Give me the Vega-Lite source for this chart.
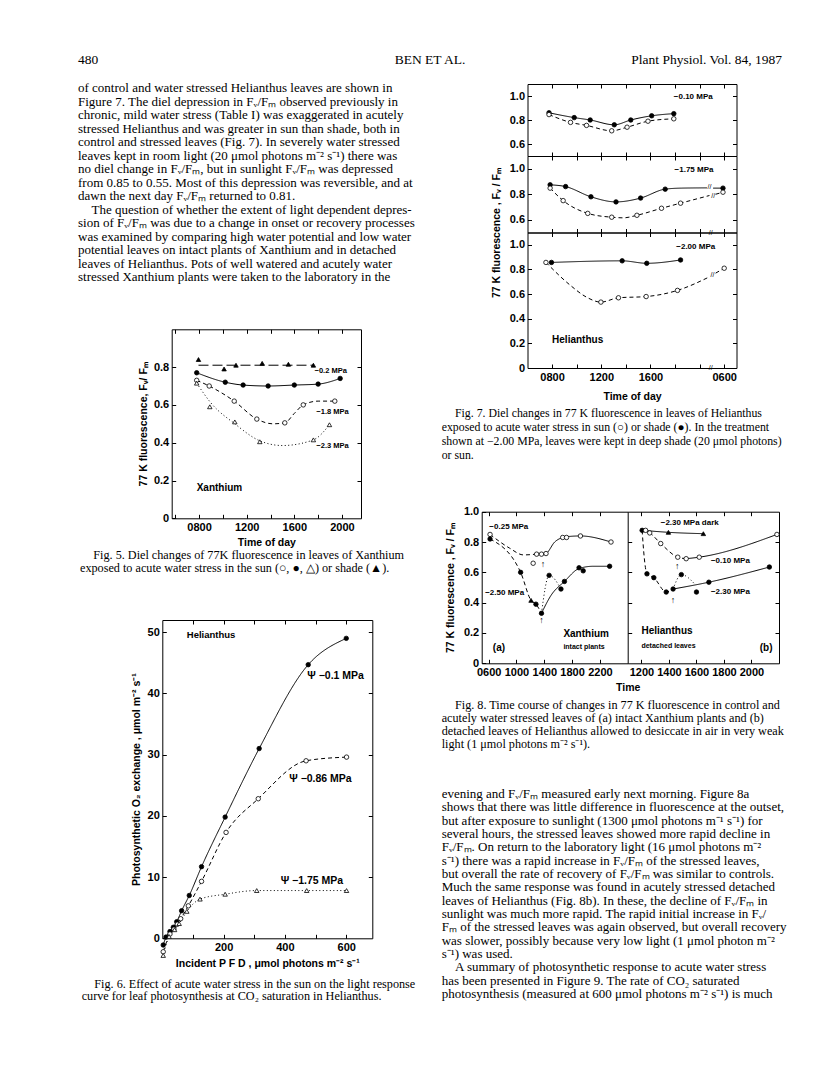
{
"$schema":"https://vega.github.io/schema/vega-lite/v6.json",
"width":816,"height":1073,"autosize":{"type":"none"},"padding":0,"background":"white",
"config":{"view":{"stroke":null},"font":"Liberation Sans",
"axis":{"grid":false,"domainColor":"black","tickColor":"black","labelColor":"black","titleColor":"black","labelFont":"Liberation Sans","titleFont":"Liberation Sans","labelFontWeight":"bold","titleFontWeight":"bold","labelFontSize":11,"titleFontSize":10.5,"tickSize":-4,"labelPadding":7,"labelFlush":false,"labelOverlap":false,"labelBound":false,"domainWidth":1,"tickWidth":1,"titlePadding":5,"minExtent":0}},
"resolve":{"scale":{"x":"independent","y":"independent"},"axis":{"x":"independent","y":"independent"}},
"datasets":{
"txt":[
{"b":"H","l":0,"p":0,"i":0,"t":"480"},
{"b":"H","l":0,"p":1,"i":0,"t":"BEN ET AL."},
{"b":"H","l":0,"p":2,"i":0,"t":"Plant Physiol. Vol. 84, 1987"},
{"b":"A","l":0,"i":0,"t":"of control and water stressed Helianthus leaves are shown in"},
{"b":"A","l":1,"i":0,"t":"Figure 7. The diel depression in Fᵥ/Fₘ observed previously in"},
{"b":"A","l":2,"i":0,"t":"chronic, mild water stress (Table I) was exaggerated in acutely"},
{"b":"A","l":3,"i":0,"t":"stressed Helianthus and was greater in sun than shade, both in"},
{"b":"A","l":4,"i":0,"t":"control and stressed leaves (Fig. 7). In severely water stressed"},
{"b":"A","l":5,"i":0,"t":"leaves kept in room light (20 μmol photons m⁻² s⁻¹) there was"},
{"b":"A","l":6,"i":0,"t":"no diel change in Fᵥ/Fₘ, but in sunlight Fᵥ/Fₘ was depressed"},
{"b":"A","l":7,"i":0,"t":"from 0.85 to 0.55. Most of this depression was reversible, and at"},
{"b":"A","l":8,"i":0,"t":"dawn the next day Fᵥ/Fₘ returned to 0.81."},
{"b":"A","l":9,"i":1,"t":"The question of whether the extent of light dependent depres-"},
{"b":"A","l":10,"i":0,"t":"sion of Fᵥ/Fₘ was due to a change in onset or recovery processes"},
{"b":"A","l":11,"i":0,"t":"was examined by comparing high water potential and low water"},
{"b":"A","l":12,"i":0,"t":"potential leaves on intact plants of Xanthium and in detached"},
{"b":"A","l":13,"i":0,"t":"leaves of Helianthus. Pots of well watered and acutely water"},
{"b":"A","l":14,"i":0,"t":"stressed Xanthium plants were taken to the laboratory in the"},
{"b":"B","l":0,"i":1,"t":"Fig. 5. Diel changes of 77K fluorescence in leaves of Xanthium"},
{"b":"B","l":1,"i":0,"t":"exposed to acute water stress in the sun (○, ●, △) or shade (▲)."},
{"b":"C","l":0,"i":1,"t":"Fig. 6. Effect of acute water stress in the sun on the light response"},
{"b":"C","l":1,"i":0,"t":"curve for leaf photosynthesis at CO₂ saturation in Helianthus."},
{"b":"D","l":0,"i":1,"t":"Fig. 7. Diel changes in 77 K fluorescence in leaves of Helianthus"},
{"b":"D","l":1,"i":0,"t":"exposed to acute water stress in sun (○) or shade (●). In the treatment"},
{"b":"D","l":2,"i":0,"t":"shown at −2.00 MPa, leaves were kept in deep shade (20 μmol photons)"},
{"b":"D","l":3,"i":0,"t":"or sun."},
{"b":"E","l":0,"i":1,"t":"Fig. 8. Time course of changes in 77 K fluorescence in control and"},
{"b":"E","l":1,"i":0,"t":"acutely water stressed leaves of (a) intact Xanthium plants and (b)"},
{"b":"E","l":2,"i":0,"t":"detached leaves of Helianthus allowed to desiccate in air in very weak"},
{"b":"E","l":3,"i":0,"t":"light (1 μmol photons m⁻² s⁻¹)."},
{"b":"F","l":0,"i":0,"t":"evening and Fᵥ/Fₘ measured early next morning. Figure 8a"},
{"b":"F","l":1,"i":0,"t":"shows that there was little difference in fluorescence at the outset,"},
{"b":"F","l":2,"i":0,"t":"but after exposure to sunlight (1300 μmol photons m⁻¹ s⁻¹) for"},
{"b":"F","l":3,"i":0,"t":"several hours, the stressed leaves showed more rapid decline in"},
{"b":"F","l":4,"i":0,"t":"Fᵥ/Fₘ. On return to the laboratory light (16 μmol photons m⁻²"},
{"b":"F","l":5,"i":0,"t":"s⁻¹) there was a rapid increase in Fᵥ/Fₘ of the stressed leaves,"},
{"b":"F","l":6,"i":0,"t":"but overall the rate of recovery of Fᵥ/Fₘ was similar to controls."},
{"b":"F","l":7,"i":0,"t":"Much the same response was found in acutely stressed detached"},
{"b":"F","l":8,"i":0,"t":"leaves of Helianthus (Fig. 8b). In these, the decline of Fᵥ/Fₘ in"},
{"b":"F","l":9,"i":0,"t":"sunlight was much more rapid. The rapid initial increase in Fᵥ/"},
{"b":"F","l":10,"i":0,"t":"Fₘ of the stressed leaves was again observed, but overall recovery"},
{"b":"F","l":11,"i":0,"t":"was slower, possibly because very low light (1 μmol photon m⁻²"},
{"b":"F","l":12,"i":0,"t":"s⁻¹) was used."},
{"b":"F","l":13,"i":1,"t":"A summary of photosynthetic response to acute water stress"},
{"b":"F","l":14,"i":0,"t":"has been presented in Figure 9. The rate of CO₂ saturated"},
{"b":"F","l":15,"i":0,"t":"photosynthesis (measured at 600 μmol photons m⁻² s⁻¹) is much"}
],
"f5":[
{"s":"T","m":"ft","d":"ldash","k":"p","h":7.95,"v":0.84},
{"s":"T","m":"ft","d":"ldash","k":"p","h":10.1,"v":0.79},
{"s":"T","m":"ft","d":"ldash","k":"p","h":11.1,"v":0.81},
{"s":"T","m":"ft","d":"ldash","k":"p","h":13.3,"v":0.82},
{"s":"T","m":"ft","d":"ldash","k":"p","h":15.5,"v":0.815},
{"s":"T","m":"ft","d":"ldash","k":"p","h":17.6,"v":0.81},
{"s":"T","m":"ft","d":"ldash","k":"c","h":7.95,"v":0.81},
{"s":"T","m":"ft","d":"ldash","k":"c","h":17.6,"v":0.81},
{"s":"C","m":"fc","d":"solid","k":"pc","h":7.8,"v":0.77},
{"s":"C","m":"fc","d":"solid","k":"pc","h":10.2,"v":0.72},
{"s":"C","m":"fc","d":"solid","k":"pc","h":11.7,"v":0.705},
{"s":"C","m":"fc","d":"solid","k":"pc","h":13.8,"v":0.7},
{"s":"C","m":"fc","d":"solid","k":"pc","h":16.0,"v":0.705},
{"s":"C","m":"fc","d":"solid","k":"pc","h":18.0,"v":0.71},
{"s":"C","m":"fc","d":"solid","k":"pc","h":19.85,"v":0.74},
{"s":"O","m":"oc","d":"dash","k":"pc","h":7.8,"v":0.73},
{"s":"O","m":"oc","d":"dash","k":"pc","h":8.85,"v":0.7},
{"s":"O","m":"oc","d":"dash","k":"pc","h":10.95,"v":0.62},
{"s":"O","m":"oc","d":"dash","k":"pc","h":12.85,"v":0.525},
{"s":"O","m":"oc","d":"dash","k":"c","h":14.2,"v":0.5},
{"s":"O","m":"oc","d":"dash","k":"pc","h":15.2,"v":0.505},
{"s":"O","m":"oc","d":"dash","k":"c","h":16.0,"v":0.555},
{"s":"O","m":"oc","d":"dash","k":"pc","h":16.75,"v":0.6},
{"s":"O","m":"oc","d":"dash","k":"c","h":18.0,"v":0.62},
{"s":"O","m":"oc","d":"dash","k":"pc","h":19.4,"v":0.62},
{"s":"D","m":"ot","d":"dot","k":"p","h":7.8,"v":0.715},
{"s":"D","m":"ot","d":"dot","k":"p","h":8.9,"v":0.59},
{"s":"D","m":"ot","d":"dot","k":"p","h":11.0,"v":0.51},
{"s":"D","m":"ot","d":"dot","k":"p","h":13.1,"v":0.405},
{"s":"D","m":"ot","d":"dot","k":"p","h":17.6,"v":0.415},
{"s":"D","m":"ot","d":"dot","k":"p","h":18.95,"v":0.495},
{"s":"D","m":"ot","d":"dot","k":"c","h":7.8,"v":0.715},
{"s":"D","m":"ot","d":"dot","k":"c","h":9.0,"v":0.61},
{"s":"D","m":"ot","d":"dot","k":"c","h":11.0,"v":0.5},
{"s":"D","m":"ot","d":"dot","k":"c","h":13.1,"v":0.41},
{"s":"D","m":"ot","d":"dot","k":"c","h":15.0,"v":0.385},
{"s":"D","m":"ot","d":"dot","k":"c","h":17.6,"v":0.415},
{"s":"D","m":"ot","d":"dot","k":"c","h":18.95,"v":0.495},
{"k":"L1","h":17.7,"v":0.78,"t":"−0.2 MPa"},
{"k":"L1","h":17.85,"v":0.56,"t":"−1.8 MPa"},
{"k":"L1","h":17.85,"v":0.38,"t":"−2.3 MPa"},
{"k":"L2","h":7.8,"v":0.16,"t":"Xanthium"}
],
"f6":[
{"s":"A","m":"fc","d":"solid","k":"pc","h":3,"v":-1.1},
{"s":"A","m":"fc","d":"solid","k":"pc","h":12,"v":0.2},
{"s":"A","m":"fc","d":"solid","k":"pc","h":25,"v":1.1},
{"s":"A","m":"fc","d":"solid","k":"pc","h":36,"v":1.8},
{"s":"A","m":"fc","d":"solid","k":"pc","h":47,"v":2.7},
{"s":"A","m":"fc","d":"solid","k":"pc","h":63,"v":4.5},
{"s":"A","m":"fc","d":"solid","k":"pc","h":88,"v":7.0},
{"s":"A","m":"fc","d":"solid","k":"pc","h":128,"v":11.7},
{"s":"A","m":"fc","d":"solid","k":"pc","h":205,"v":19.8},
{"s":"A","m":"fc","d":"solid","k":"pc","h":316,"v":31.0},
{"s":"A","m":"fc","d":"solid","k":"pc","h":476,"v":44.7},
{"s":"A","m":"fc","d":"solid","k":"pc","h":600,"v":49.0},
{"s":"B","m":"oc","d":"dash","k":"pc","h":3,"v":-2.2},
{"s":"B","m":"oc","d":"dash","k":"pc","h":25,"v":0.7},
{"s":"B","m":"oc","d":"dash","k":"pc","h":38,"v":1.5},
{"s":"B","m":"oc","d":"dash","k":"pc","h":49,"v":2.3},
{"s":"B","m":"oc","d":"dash","k":"pc","h":60,"v":3.2},
{"s":"B","m":"oc","d":"dash","k":"pc","h":85,"v":5.3},
{"s":"B","m":"oc","d":"dash","k":"pc","h":128,"v":9.3},
{"s":"B","m":"oc","d":"dash","k":"pc","h":208,"v":17.3},
{"s":"B","m":"oc","d":"dash","k":"pc","h":313,"v":22.8},
{"s":"B","m":"oc","d":"dash","k":"pc","h":469,"v":29.0},
{"s":"B","m":"oc","d":"dash","k":"pc","h":601,"v":29.6},
{"s":"C","m":"ot","d":"dot","k":"pc","h":3,"v":-2.8},
{"s":"C","m":"ot","d":"dot","k":"pc","h":22,"v":0.3},
{"s":"C","m":"ot","d":"dot","k":"pc","h":40,"v":1.4},
{"s":"C","m":"ot","d":"dot","k":"pc","h":55,"v":2.4},
{"s":"C","m":"ot","d":"dot","k":"pc","h":80,"v":4.4},
{"s":"C","m":"ot","d":"dot","k":"pc","h":123,"v":6.4},
{"s":"C","m":"ot","d":"dot","k":"pc","h":205,"v":7.2},
{"s":"C","m":"ot","d":"dot","k":"pc","h":308,"v":7.8},
{"s":"C","m":"ot","d":"dot","k":"pc","h":471,"v":7.8},
{"s":"C","m":"ot","d":"dot","k":"pc","h":601,"v":7.8},
{"k":"L6","h":473,"v":42.9,"t":"Ψ −0.1 MPa"},
{"k":"L6","h":414,"v":26.0,"t":"Ψ −0.86 MPa"},
{"k":"L6","h":386,"v":9.3,"t":"Ψ −1.75 MPa"},
{"k":"L2","h":80,"v":49.6,"t":"Helianthus"}
],
"f7t":[
{"s":"F","m":"fc","d":"solid","k":"pc","h":7.75,"v":0.86},
{"s":"F","m":"fc","d":"solid","k":"pc","h":9.8,"v":0.82},
{"s":"F","m":"fc","d":"solid","k":"pc","h":11.1,"v":0.8},
{"s":"F","m":"fc","d":"solid","k":"pc","h":13.06,"v":0.76},
{"s":"F","m":"fc","d":"solid","k":"pc","h":14.4,"v":0.8},
{"s":"F","m":"fc","d":"solid","k":"pc","h":16.1,"v":0.835},
{"s":"F","m":"fc","d":"solid","k":"pc","h":17.9,"v":0.853},
{"s":"O","m":"oc","d":"dash","k":"pc","h":7.75,"v":0.845},
{"s":"O","m":"oc","d":"dash","k":"pc","h":9.5,"v":0.78},
{"s":"O","m":"oc","d":"dash","k":"pc","h":10.8,"v":0.755},
{"s":"O","m":"oc","d":"dash","k":"pc","h":12.85,"v":0.71},
{"s":"O","m":"oc","d":"dash","k":"pc","h":14.1,"v":0.74},
{"s":"O","m":"oc","d":"dash","k":"pc","h":15.8,"v":0.79},
{"s":"O","m":"oc","d":"dash","k":"pc","h":17.9,"v":0.81},
{"k":"L1","h":17.9,"v":0.99,"t":"−0.10 MPa"}
],
"f7m":[
{"s":"F","m":"fc","d":"solid","k":"pc","h":7.84,"v":0.874},
{"s":"F","m":"fc","d":"solid","k":"pc","h":9.1,"v":0.86},
{"s":"F","m":"fc","d":"solid","k":"pc","h":11.16,"v":0.78},
{"s":"F","m":"fc","d":"solid","k":"pc","h":13.2,"v":0.74},
{"s":"F","m":"fc","d":"solid","k":"pc","h":15.2,"v":0.77},
{"s":"F","m":"fc","d":"solid","k":"pc","h":17.2,"v":0.84},
{"s":"F","m":"fc","d":"solid","k":"c","h":18.5,"v":0.848},
{"s":"F","m":"fc","d":"solid","k":"c","h":20.6,"v":0.85},
{"s":"F2","m":"fc","d":"solid","k":"c","h":21.1,"v":0.848},
{"s":"F2","m":"fc","d":"solid","k":"pc","h":21.9,"v":0.848},
{"s":"O","m":"oc","d":"dash","k":"pc","h":7.84,"v":0.848},
{"s":"O","m":"oc","d":"dash","k":"pc","h":8.9,"v":0.75},
{"s":"O","m":"oc","d":"dash","k":"pc","h":10.9,"v":0.65},
{"s":"O","m":"oc","d":"dash","k":"pc","h":12.85,"v":0.62},
{"s":"O","m":"oc","d":"dash","k":"c","h":13.8,"v":0.615},
{"s":"O","m":"oc","d":"dash","k":"pc","h":14.9,"v":0.635},
{"s":"O","m":"oc","d":"dash","k":"pc","h":16.9,"v":0.69},
{"s":"O","m":"oc","d":"dash","k":"pc","h":18.45,"v":0.73},
{"s":"O","m":"oc","d":"dash","k":"c","h":20.8,"v":0.79},
{"s":"O2","m":"oc","d":"dash","k":"c","h":21.3,"v":0.8},
{"s":"O2","m":"oc","d":"dash","k":"pc","h":21.9,"v":0.816},
{"k":"L1","h":17.96,"v":0.99,"t":"−1.75 MPa"},
{"k":"L5","h":20.8,"v":0.86,"t":"//"},
{"k":"L5","h":21.1,"v":0.785,"t":"//"}
],
"f7b":[
{"s":"F","m":"fc","d":"solid","k":"pc","h":7.95,"v":0.857},
{"s":"F","m":"fc","d":"solid","k":"pc","h":13.7,"v":0.87},
{"s":"F","m":"fc","d":"solid","k":"pc","h":15.7,"v":0.85},
{"s":"F","m":"fc","d":"solid","k":"pc","h":18.45,"v":0.877},
{"s":"O","m":"oc","d":"dash","k":"pc","h":7.5,"v":0.857},
{"s":"O","m":"oc","d":"dash","k":"c","h":9.5,"v":0.67},
{"s":"O","m":"oc","d":"dash","k":"c","h":10.8,"v":0.575},
{"s":"O","m":"oc","d":"dash","k":"pc","h":11.97,"v":0.535},
{"s":"O","m":"oc","d":"dash","k":"pc","h":13.4,"v":0.57},
{"s":"O","m":"oc","d":"dash","k":"pc","h":15.65,"v":0.58},
{"s":"O","m":"oc","d":"dash","k":"pc","h":18.2,"v":0.63},
{"s":"O","m":"oc","d":"dash","k":"c","h":20.8,"v":0.74},
{"s":"O2","m":"oc","d":"dash","k":"c","h":21.3,"v":0.77},
{"s":"O2","m":"oc","d":"dash","k":"pc","h":22.0,"v":0.81},
{"k":"L1","h":18.1,"v":0.98,"t":"−2.00 MPa"},
{"k":"L2","h":8.0,"v":0.23,"t":"Helianthus"},
{"k":"L5","h":21.05,"v":0.755,"t":"//"},
{"k":"L5","h":20.9,"v":0.0,"t":"//"},
{"k":"L5","h":20.9,"v":1.1,"t":"//"}
],
"f8a":[
{"s":"a25d","m":"oc","d":"dash","k":"c","h":6.2,"v":0.85},
{"s":"a25d","m":"oc","d":"dash","k":"c","h":9.0,"v":0.76},
{"s":"a25d","m":"oc","d":"dash","k":"c","h":11.0,"v":0.715},
{"s":"a25d","m":"oc","d":"dash","k":"c","h":12.9,"v":0.72},
{"s":"a25s","m":"oc","d":"solid","k":"c","h":13.6,"v":0.72},
{"s":"a25s","m":"oc","d":"solid","k":"c","h":14.25,"v":0.725},
{"s":"a25s","m":"oc","d":"solid","k":"c","h":15.5,"v":0.8},
{"s":"a25s","m":"oc","d":"solid","k":"c","h":16.65,"v":0.83},
{"s":"a25s","m":"oc","d":"solid","k":"c","h":17.2,"v":0.835},
{"s":"a25s","m":"oc","d":"solid","k":"c","h":19.2,"v":0.84},
{"s":"a25s","m":"oc","d":"solid","k":"c","h":23.6,"v":0.8},
{"s":"a25","m":"oc","d":"dash","k":"p","h":6.2,"v":0.85},
{"s":"a25","m":"oc","d":"dash","k":"p","h":12.4,"v":0.66},
{"s":"a25","m":"oc","d":"dash","k":"p","h":12.9,"v":0.72},
{"s":"a25","m":"oc","d":"dash","k":"p","h":13.6,"v":0.72},
{"s":"a25","m":"oc","d":"dash","k":"p","h":14.25,"v":0.724},
{"s":"a25","m":"oc","d":"dash","k":"p","h":16.65,"v":0.83},
{"s":"a25","m":"oc","d":"dash","k":"p","h":17.2,"v":0.83},
{"s":"a25","m":"oc","d":"dash","k":"p","h":19.2,"v":0.84},
{"s":"a25","m":"oc","d":"dash","k":"p","h":23.6,"v":0.8},
{"s":"a250d","m":"fc","d":"dash","k":"c","h":6.2,"v":0.82},
{"s":"a250d","m":"fc","d":"dash","k":"c","h":10.6,"v":0.6},
{"s":"a250d","m":"fc","d":"dash","k":"c","h":12.1,"v":0.415},
{"s":"a250d","m":"fc","d":"dash","k":"c","h":12.8,"v":0.39},
{"s":"a250d","m":"fc","d":"dash","k":"c","h":13.6,"v":0.33},
{"s":"a250t","m":"fc","d":"dot","k":"c","h":13.6,"v":0.33},
{"s":"a250t","m":"fc","d":"dot","k":"c","h":14.7,"v":0.58},
{"s":"a250t","m":"fc","d":"dot","k":"c","h":16.4,"v":0.49},
{"s":"a250s","m":"fc","d":"solid","k":"c","h":13.6,"v":0.33},
{"s":"a250s","m":"fc","d":"solid","k":"c","h":15.0,"v":0.45},
{"s":"a250s","m":"fc","d":"solid","k":"c","h":16.9,"v":0.54},
{"s":"a250s","m":"fc","d":"solid","k":"c","h":19.0,"v":0.625},
{"s":"a250s","m":"fc","d":"solid","k":"c","h":21.0,"v":0.64},
{"s":"a250s","m":"fc","d":"solid","k":"c","h":23.4,"v":0.64},
{"s":"a250","m":"fc","d":"solid","k":"p","h":6.2,"v":0.82},
{"s":"a250","m":"fc","d":"solid","k":"p","h":10.6,"v":0.6},
{"s":"a250","m":"ft","d":"solid","k":"p","h":12.1,"v":0.415},
{"s":"a250","m":"fc","d":"solid","k":"p","h":12.8,"v":0.39},
{"s":"a250","m":"fc","d":"solid","k":"p","h":13.6,"v":0.33},
{"s":"a250","m":"fc","d":"solid","k":"p","h":14.7,"v":0.58},
{"s":"a250","m":"fc","d":"solid","k":"p","h":16.4,"v":0.49},
{"s":"a250","m":"fc","d":"solid","k":"p","h":16.9,"v":0.54},
{"s":"a250","m":"fc","d":"solid","k":"p","h":19.0,"v":0.63},
{"s":"a250","m":"fc","d":"solid","k":"p","h":19.6,"v":0.61},
{"s":"a250","m":"fc","d":"solid","k":"p","h":23.4,"v":0.64},
{"k":"L1","h":6.1,"v":0.9,"t":"−0.25 MPa"},
{"k":"L1","h":5.5,"v":0.465,"t":"−2.50 MPa"},
{"k":"L2","h":16.75,"v":0.19,"t":"Xanthium"},
{"k":"L3","h":16.75,"v":0.11,"t":"intact plants"},
{"k":"L2","h":6.6,"v":0.1,"t":"(a)"},
{"k":"L4","h":13.8,"v":0.655,"t":"↑"},
{"k":"L4","h":13.6,"v":0.285,"t":"↑"}
],
"f8b":[
{"s":"b10d","m":"oc","d":"dash","k":"c","h":12.1,"v":0.877},
{"s":"b10d","m":"oc","d":"dash","k":"c","h":12.6,"v":0.86},
{"s":"b10d","m":"oc","d":"dash","k":"c","h":13.4,"v":0.79},
{"s":"b10d","m":"oc","d":"dash","k":"c","h":14.64,"v":0.7},
{"s":"b10d","m":"oc","d":"dash","k":"c","h":15.25,"v":0.69},
{"s":"b10s","m":"oc","d":"solid","k":"c","h":15.25,"v":0.69},
{"s":"b10s","m":"oc","d":"solid","k":"c","h":16.2,"v":0.7},
{"s":"b10s","m":"oc","d":"solid","k":"c","h":21.85,"v":0.85},
{"s":"bdk","m":"ft","d":"solid","k":"c","h":12.1,"v":0.877},
{"s":"bdk","m":"ft","d":"solid","k":"pc","h":13.96,"v":0.864},
{"s":"bdk","m":"ft","d":"solid","k":"pc","h":16.5,"v":0.855},
{"s":"b23d","m":"fc","d":"dash","k":"c","h":12.05,"v":0.877},
{"s":"b23d","m":"fc","d":"dash","k":"c","h":12.2,"v":0.7},
{"s":"b23d","m":"fc","d":"dash","k":"c","h":12.4,"v":0.59},
{"s":"b23d","m":"fc","d":"dash","k":"c","h":12.9,"v":0.565},
{"s":"b23d","m":"fc","d":"dash","k":"c","h":13.8,"v":0.47},
{"s":"b23d","m":"fc","d":"dash","k":"c","h":14.3,"v":0.49},
{"s":"b23t","m":"fc","d":"dot","k":"c","h":14.3,"v":0.49},
{"s":"b23t","m":"fc","d":"dot","k":"c","h":14.9,"v":0.585},
{"s":"b23t","m":"fc","d":"dot","k":"c","h":15.9,"v":0.52},
{"s":"b23s","m":"fc","d":"solid","k":"c","h":14.3,"v":0.49},
{"s":"b23s","m":"fc","d":"solid","k":"c","h":16.9,"v":0.535},
{"s":"b23s","m":"fc","d":"solid","k":"c","h":21.3,"v":0.635},
{"s":"b23","m":"fc","d":"solid","k":"p","h":12.05,"v":0.877},
{"s":"b23","m":"fc","d":"solid","k":"p","h":12.4,"v":0.59},
{"s":"b23","m":"fc","d":"solid","k":"p","h":12.9,"v":0.565},
{"s":"b23","m":"fc","d":"solid","k":"p","h":13.8,"v":0.47},
{"s":"b23","m":"fc","d":"solid","k":"p","h":14.3,"v":0.49},
{"s":"b23","m":"fc","d":"solid","k":"p","h":14.9,"v":0.585},
{"s":"b23","m":"fc","d":"solid","k":"p","h":16.0,"v":0.47},
{"s":"b23","m":"fc","d":"solid","k":"p","h":16.9,"v":0.535},
{"s":"b23","m":"fc","d":"solid","k":"p","h":21.3,"v":0.635},
{"s":"b10","m":"oc","d":"dash","k":"p","h":12.3,"v":0.877},
{"s":"b10","m":"oc","d":"dash","k":"p","h":12.6,"v":0.86},
{"s":"b10","m":"oc","d":"dash","k":"p","h":13.4,"v":0.79},
{"s":"b10","m":"oc","d":"dash","k":"p","h":14.64,"v":0.7},
{"s":"b10","m":"oc","d":"dash","k":"p","h":15.25,"v":0.69},
{"s":"b10","m":"oc","d":"dash","k":"p","h":16.2,"v":0.7},
{"s":"b10","m":"oc","d":"dash","k":"p","h":21.85,"v":0.85},
{"k":"L1","h":13.4,"v":0.925,"t":"−2.30 MPa dark"},
{"k":"L1","h":17.05,"v":0.675,"t":"−0.10 MPa"},
{"k":"L1","h":17.05,"v":0.47,"t":"−2.30 MPa"},
{"k":"L2","h":12.0,"v":0.21,"t":"Helianthus"},
{"k":"L3","h":12.0,"v":0.115,"t":"detached leaves"},
{"k":"L2","h":20.6,"v":0.1,"t":"(b)"},
{"k":"L4","h":14.6,"v":0.645,"t":"↑"},
{"k":"L4","h":14.3,"v":0.42,"t":"↑"}
]
},
"layer":[
{"data":{"name":"txt"},"transform":[{"filter":"datum.b=='H' && datum.p==0"}],"mark":{"type":"text","align":"left","baseline":"middle","font":"Liberation Serif","fontSize":13.5,"fill":"black"},
 "encoding":{"x":{"field":"p","type":"quantitative","scale":{"domain":[0,2],"range":[78,782],"zero":false,"nice":false},"axis":null},"y":{"field":"l","type":"quantitative","scale":{"domain":[0,1],"range":[60,74],"zero":false,"nice":false},"axis":null},"text":{"field":"t"}}},
{"data":{"name":"txt"},"transform":[{"filter":"datum.b=='H' && datum.p==1"}],"mark":{"type":"text","align":"center","baseline":"middle","font":"Liberation Serif","fontSize":13.5,"fill":"black"},
 "encoding":{"x":{"field":"p","type":"quantitative","scale":{"domain":[0,2],"range":[78,782],"zero":false,"nice":false},"axis":null},"y":{"field":"l","type":"quantitative","scale":{"domain":[0,1],"range":[60,74],"zero":false,"nice":false},"axis":null},"text":{"field":"t"}}},
{"data":{"name":"txt"},"transform":[{"filter":"datum.b=='H' && datum.p==2"}],"mark":{"type":"text","align":"right","baseline":"middle","font":"Liberation Serif","fontSize":13.5,"fill":"black"},
 "encoding":{"x":{"field":"p","type":"quantitative","scale":{"domain":[0,2],"range":[78,782],"zero":false,"nice":false},"axis":null},"y":{"field":"l","type":"quantitative","scale":{"domain":[0,1],"range":[60,74],"zero":false,"nice":false},"axis":null},"text":{"field":"t"}}},
{"data":{"name":"txt"},"transform":[{"filter":"datum.b=='A'"}],"mark":{"type":"text","align":"left","baseline":"middle","font":"Liberation Serif","fontSize":13,"fill":"black"},
 "encoding":{"x":{"field":"i","type":"quantitative","scale":{"domain":[0,1],"range":[78,91.5],"zero":false,"nice":false},"axis":null},"y":{"field":"l","type":"quantitative","scale":{"domain":[0,14],"range":[88,277],"zero":false,"nice":false},"axis":null},"text":{"field":"t"}}},
{"data":{"name":"txt"},"transform":[{"filter":"datum.b=='B'"}],"mark":{"type":"text","align":"left","baseline":"middle","font":"Liberation Serif","fontSize":12.2,"fill":"black"},
 "encoding":{"x":{"field":"i","type":"quantitative","scale":{"domain":[0,1],"range":[80,93.3],"zero":false,"nice":false},"axis":null},"y":{"field":"l","type":"quantitative","scale":{"domain":[0,1],"range":[555,568],"zero":false,"nice":false},"axis":null},"text":{"field":"t"}}},
{"data":{"name":"txt"},"transform":[{"filter":"datum.b=='C'"}],"mark":{"type":"text","align":"left","baseline":"middle","font":"Liberation Serif","fontSize":12.2,"fill":"black"},
 "encoding":{"x":{"field":"i","type":"quantitative","scale":{"domain":[0,1],"range":[81.7,94.3],"zero":false,"nice":false},"axis":null},"y":{"field":"l","type":"quantitative","scale":{"domain":[0,1],"range":[983.5,996],"zero":false,"nice":false},"axis":null},"text":{"field":"t"}}},
{"data":{"name":"txt"},"transform":[{"filter":"datum.b=='D'"}],"mark":{"type":"text","align":"left","baseline":"middle","font":"Liberation Serif","fontSize":11.8,"fill":"black"},
 "encoding":{"x":{"field":"i","type":"quantitative","scale":{"domain":[0,1],"range":[441.7,455],"zero":false,"nice":false},"axis":null},"y":{"field":"l","type":"quantitative","scale":{"domain":[0,3],"range":[413,455],"zero":false,"nice":false},"axis":null},"text":{"field":"t"}}},
{"data":{"name":"txt"},"transform":[{"filter":"datum.b=='E'"}],"mark":{"type":"text","align":"left","baseline":"middle","font":"Liberation Serif","fontSize":12.2,"fill":"black"},
 "encoding":{"x":{"field":"i","type":"quantitative","scale":{"domain":[0,1],"range":[441.7,455],"zero":false,"nice":false},"axis":null},"y":{"field":"l","type":"quantitative","scale":{"domain":[0,3],"range":[705,744],"zero":false,"nice":false},"axis":null},"text":{"field":"t"}}},
{"data":{"name":"txt"},"transform":[{"filter":"datum.b=='F'"}],"mark":{"type":"text","align":"left","baseline":"middle","font":"Liberation Serif","fontSize":13,"fill":"black"},
 "encoding":{"x":{"field":"i","type":"quantitative","scale":{"domain":[0,1],"range":[441.7,455],"zero":false,"nice":false},"axis":null},"y":{"field":"l","type":"quantitative","scale":{"domain":[0,15],"range":[794,994],"zero":false,"nice":false},"axis":null},"text":{"field":"t"}}},

{"data":{"name":"f5"},"resolve":{"axis":{"x":"independent","y":"independent"}},
 "layer":[
  {"transform":[{"filter":"datum.k=='c'||datum.k=='pc'"}],"mark":{"type":"line","interpolate":"monotone","stroke":"black","strokeWidth":1},
   "encoding":{"x":{"field":"h","type":"quantitative","scale":{"domain":[5.7,21.6],"range":[171.7,361],"nice":false,"zero":false},"axis":{"orient":"top","offset":-329.3,"values":[6,8,10,12,14,16,18,20],"labels":false,"title":null}},
    "y":{"field":"v","type":"quantitative","scale":{"domain":[0,1],"range":[518.3,329.3],"nice":false,"zero":false},"axis":{"orient":"right","offset":-455,"values":[0.2,0.4,0.6,0.8],"labels":false,"title":null}},
    "detail":{"field":"s"},
    "strokeDash":{"field":"d","type":"nominal","scale":{"domain":["solid","dash","dot","ldash"],"range":[[1,0],[4,3],[1,2.5],[10,4]]},"legend":null}}},
  {"transform":[{"filter":"datum.k=='p'||datum.k=='pc'"}],"mark":{"type":"point","filled":true,"stroke":"black","strokeWidth":0.8,"size":20,"opacity":1},
   "encoding":{"x":{"field":"h","type":"quantitative","scale":{"domain":[5.7,21.6],"range":[171.7,361],"nice":false,"zero":false},"axis":{"orient":"bottom","offset":-554.7,"values":[6,8,10,12,14,16,18,20],"labelExpr":"datum.value % 4 == 0 ? ((datum.value < 10 ? '0' : '') + datum.value + '00') : ''","title":"Time of day","titlePadding":5}},
    "y":{"field":"v","type":"quantitative","scale":{"domain":[0,1],"range":[518.3,329.3],"nice":false,"zero":false},"axis":{"orient":"left","offset":-171.7,"values":[0,0.2,0.4,0.6,0.8],"labelExpr":"datum.value == 0 ? '0' : format(datum.value, '.1f')","title":"77 K fluorescence, Fᵥ/ Fₘ","titlePadding":5}},
    "shape":{"field":"m","type":"nominal","scale":{"domain":["fc","oc","ft","ot"],"range":["circle","circle","triangle-up","triangle-up"]},"legend":null},
    "fill":{"field":"m","type":"nominal","scale":{"domain":["fc","oc","ft","ot"],"range":["black","white","black","white"]},"legend":null}}},
  {"transform":[{"filter":"datum.k=='L1'"}],"mark":{"type":"text","align":"left","baseline":"middle","font":"Liberation Sans","fontWeight":"bold","fontSize":7.5},
   "encoding":{"x":{"field":"h","type":"quantitative","scale":{"domain":[5.7,21.6],"range":[171.7,361],"nice":false,"zero":false},"axis":null},"y":{"field":"v","type":"quantitative","scale":{"domain":[0,1],"range":[518.3,329.3],"nice":false,"zero":false},"axis":null},"text":{"field":"t"}}},
  {"transform":[{"filter":"datum.k=='L2'"}],"mark":{"type":"text","align":"left","baseline":"middle","font":"Liberation Sans","fontWeight":"bold","fontSize":10},
   "encoding":{"x":{"field":"h","type":"quantitative","scale":{"domain":[5.7,21.6],"range":[171.7,361],"nice":false,"zero":false},"axis":null},"y":{"field":"v","type":"quantitative","scale":{"domain":[0,1],"range":[518.3,329.3],"nice":false,"zero":false},"axis":null},"text":{"field":"t"}}}
 ]},

{"data":{"name":"f6"},"resolve":{"axis":{"x":"independent","y":"independent"}},
 "layer":[
  {"transform":[{"filter":"datum.k=='c'||datum.k=='pc'"}],"mark":{"type":"line","interpolate":"monotone","stroke":"black","strokeWidth":1},
   "encoding":{"x":{"field":"h","type":"quantitative","scale":{"domain":[0,685],"range":[162.3,372.3],"nice":false,"zero":false},"axis":{"orient":"top","offset":-620,"values":[100,200,300,400,500,600],"labels":false,"title":null}},
    "y":{"field":"v","type":"quantitative","scale":{"domain":[0,52],"range":[938.3,620],"nice":false,"zero":false},"axis":{"orient":"right","offset":-443.7,"values":[10,20,30,40,50],"labels":false,"title":null}},
    "detail":{"field":"s"},
    "strokeDash":{"field":"d","type":"nominal","scale":{"domain":["solid","dash","dot","ldash"],"range":[[1,0],[4,3],[1,2.5],[10,4]]},"legend":null}}},
  {"transform":[{"filter":"datum.k=='p'||datum.k=='pc'"}],"mark":{"type":"point","filled":true,"stroke":"black","strokeWidth":0.8,"size":20,"opacity":1},
   "encoding":{"x":{"field":"h","type":"quantitative","scale":{"domain":[0,685],"range":[162.3,372.3],"nice":false,"zero":false},"axis":{"orient":"bottom","offset":-134.7,"values":[100,200,300,400,500,600],"labelExpr":"datum.value % 200 == 0 ? datum.label : ''","title":"Incident P F D , μmol photons m⁻² s⁻¹","titlePadding":6}},
    "y":{"field":"v","type":"quantitative","scale":{"domain":[0,52],"range":[938.3,620],"nice":false,"zero":false},"axis":{"orient":"left","offset":-162.3,"values":[0,10,20,30,40,50],"title":"Photosynthetic O₂ exchange , μmol m⁻² s⁻¹","titlePadding":6}},
    "shape":{"field":"m","type":"nominal","scale":{"domain":["fc","oc","ft","ot"],"range":["circle","circle","triangle-up","triangle-up"]},"legend":null},
    "fill":{"field":"m","type":"nominal","scale":{"domain":["fc","oc","ft","ot"],"range":["black","white","black","white"]},"legend":null}}},
  {"transform":[{"filter":"datum.k=='L6'"}],"mark":{"type":"text","align":"left","baseline":"middle","font":"Liberation Sans","fontWeight":"bold","fontSize":10.5},
   "encoding":{"x":{"field":"h","type":"quantitative","scale":{"domain":[0,685],"range":[162.3,372.3],"nice":false,"zero":false},"axis":null},"y":{"field":"v","type":"quantitative","scale":{"domain":[0,52],"range":[938.3,620],"nice":false,"zero":false},"axis":null},"text":{"field":"t"}}},
  {"transform":[{"filter":"datum.k=='L2'"}],"mark":{"type":"text","align":"left","baseline":"middle","font":"Liberation Sans","fontWeight":"bold","fontSize":9.5},
   "encoding":{"x":{"field":"h","type":"quantitative","scale":{"domain":[0,685],"range":[162.3,372.3],"nice":false,"zero":false},"axis":null},"y":{"field":"v","type":"quantitative","scale":{"domain":[0,52],"range":[938.3,620],"nice":false,"zero":false},"axis":null},"text":{"field":"t"}}}
 ]},

{"data":{"name":"f7t"},"resolve":{"axis":{"x":"independent","y":"independent"}},
 "layer":[
  {"transform":[{"filter":"datum.k=='c'||datum.k=='pc'"}],"mark":{"type":"line","interpolate":"monotone","stroke":"black","strokeWidth":1},
   "encoding":{"x":{"field":"h","type":"quantitative","scale":{"domain":[6,23],"range":[527.5,736.5],"nice":false,"zero":false},"axis":{"orient":"top","offset":-84,"values":[8,10,12,14,16,18,20,22],"labels":false,"title":null}},
    "y":{"field":"v","type":"quantitative","scale":{"domain":[0.5,1.1],"range":[156,84],"nice":false,"zero":false},"axis":{"orient":"right","offset":-79.5,"values":[0.6,0.8,1.0],"labels":false,"title":null}},
    "detail":{"field":"s"},
    "strokeDash":{"field":"d","type":"nominal","scale":{"domain":["solid","dash","dot","ldash"],"range":[[1,0],[4,3],[1,2.5],[10,4]]},"legend":null}}},
  {"transform":[{"filter":"datum.k=='p'||datum.k=='pc'"}],"mark":{"type":"point","filled":true,"stroke":"black","strokeWidth":0.8,"size":20,"opacity":1},
   "encoding":{"x":{"field":"h","type":"quantitative","scale":{"domain":[6,23],"range":[527.5,736.5],"nice":false,"zero":false},"axis":{"orient":"bottom","offset":-917,"values":[8,10,12,14,16,18,20,22],"labels":false,"title":null}},
    "y":{"field":"v","type":"quantitative","scale":{"domain":[0.5,1.1],"range":[156,84],"nice":false,"zero":false},"axis":{"orient":"left","offset":-527.5,"values":[0.6,0.8,1.0],"format":".1f","title":null}},
    "shape":{"field":"m","type":"nominal","scale":{"domain":["fc","oc","ft","ot"],"range":["circle","circle","triangle-up","triangle-up"]},"legend":null},
    "fill":{"field":"m","type":"nominal","scale":{"domain":["fc","oc","ft","ot"],"range":["black","white","black","white"]},"legend":null}}},
  {"transform":[{"filter":"datum.k=='L1'"}],"mark":{"type":"text","align":"left","baseline":"middle","font":"Liberation Sans","fontWeight":"bold","fontSize":8},
   "encoding":{"x":{"field":"h","type":"quantitative","scale":{"domain":[6,23],"range":[527.5,736.5],"nice":false,"zero":false},"axis":null},"y":{"field":"v","type":"quantitative","scale":{"domain":[0.5,1.1],"range":[156,84],"nice":false,"zero":false},"axis":null},"text":{"field":"t"}}}
 ]},

{"data":{"name":"f7m"},"resolve":{"axis":{"x":"independent","y":"independent"}},
 "layer":[
  {"transform":[{"filter":"datum.k=='c'||datum.k=='pc'"}],"mark":{"type":"line","interpolate":"monotone","stroke":"black","strokeWidth":1},
   "encoding":{"x":{"field":"h","type":"quantitative","scale":{"domain":[6,23],"range":[527.5,736.5],"nice":false,"zero":false},"axis":{"orient":"top","offset":-156,"values":[8,10,12,14,16,18,20,22],"labels":false,"title":null}},
    "y":{"field":"v","type":"quantitative","scale":{"domain":[0.5,1.1],"range":[232.5,156],"nice":false,"zero":false},"axis":{"orient":"right","offset":-79.5,"values":[0.6,0.8,1.0],"labels":false,"title":null}},
    "detail":{"field":"s"},
    "strokeDash":{"field":"d","type":"nominal","scale":{"domain":["solid","dash","dot","ldash"],"range":[[1,0],[4,3],[1,2.5],[10,4]]},"legend":null}}},
  {"transform":[{"filter":"datum.k=='p'||datum.k=='pc'"}],"mark":{"type":"point","filled":true,"stroke":"black","strokeWidth":0.8,"size":20,"opacity":1},
   "encoding":{"x":{"field":"h","type":"quantitative","scale":{"domain":[6,23],"range":[527.5,736.5],"nice":false,"zero":false},"axis":{"orient":"bottom","offset":-840.5,"values":[8,10,12,14,16,18,20,22],"labels":false,"title":null}},
    "y":{"field":"v","type":"quantitative","scale":{"domain":[0.5,1.1],"range":[232.5,156],"nice":false,"zero":false},"axis":{"orient":"left","offset":-527.5,"values":[0.6,0.8,1.0],"format":".1f","title":null}},
    "shape":{"field":"m","type":"nominal","scale":{"domain":["fc","oc","ft","ot"],"range":["circle","circle","triangle-up","triangle-up"]},"legend":null},
    "fill":{"field":"m","type":"nominal","scale":{"domain":["fc","oc","ft","ot"],"range":["black","white","black","white"]},"legend":null}}},
  {"transform":[{"filter":"datum.k=='L1'"}],"mark":{"type":"text","align":"left","baseline":"middle","font":"Liberation Sans","fontWeight":"bold","fontSize":8},
   "encoding":{"x":{"field":"h","type":"quantitative","scale":{"domain":[6,23],"range":[527.5,736.5],"nice":false,"zero":false},"axis":null},"y":{"field":"v","type":"quantitative","scale":{"domain":[0.5,1.1],"range":[232.5,156],"nice":false,"zero":false},"axis":null},"text":{"field":"t"}}},
  {"transform":[{"filter":"datum.k=='L5'"}],"mark":{"type":"text","align":"center","baseline":"middle","font":"Liberation Sans","fontSize":7},
   "encoding":{"x":{"field":"h","type":"quantitative","scale":{"domain":[6,23],"range":[527.5,736.5],"nice":false,"zero":false},"axis":null},"y":{"field":"v","type":"quantitative","scale":{"domain":[0.5,1.1],"range":[232.5,156],"nice":false,"zero":false},"axis":null},"text":{"field":"t"}}}
 ]},

{"data":{"name":"f7b"},"resolve":{"axis":{"x":"independent","y":"independent"}},
 "layer":[
  {"transform":[{"filter":"datum.k=='c'||datum.k=='pc'"}],"mark":{"type":"line","interpolate":"monotone","stroke":"black","strokeWidth":1},
   "encoding":{"x":{"field":"h","type":"quantitative","scale":{"domain":[6,23],"range":[527.5,736.5],"nice":false,"zero":false},"axis":{"orient":"top","offset":-232.5,"values":[8,10,12,14,16,18,20,22],"labels":false,"title":null}},
    "y":{"field":"v","type":"quantitative","scale":{"domain":[0,1.1],"range":[368,232.5],"nice":false,"zero":false},"axis":{"orient":"right","offset":-79.5,"values":[0.2,0.4,0.6,0.8,1.0],"labels":false,"title":null}},
    "detail":{"field":"s"},
    "strokeDash":{"field":"d","type":"nominal","scale":{"domain":["solid","dash","dot","ldash"],"range":[[1,0],[4,3],[1,2.5],[10,4]]},"legend":null}}},
  {"transform":[{"filter":"datum.k=='p'||datum.k=='pc'"}],"mark":{"type":"point","filled":true,"stroke":"black","strokeWidth":0.8,"size":20,"opacity":1},
   "encoding":{"x":{"field":"h","type":"quantitative","scale":{"domain":[6,23],"range":[527.5,736.5],"nice":false,"zero":false},"axis":{"orient":"bottom","offset":-705,"values":[8,10,12,14,16,18,20,22],"labelExpr":"datum.value == 22 ? '0600' : (datum.value == 8 ? '0800' : (datum.value == 12 ? '1200' : (datum.value == 16 ? '1600' : '')))","title":"Time of day","titlePadding":9}},
    "y":{"field":"v","type":"quantitative","scale":{"domain":[0,1.1],"range":[368,232.5],"nice":false,"zero":false},"axis":{"orient":"left","offset":-527.5,"values":[0,0.2,0.4,0.6,0.8,1.0],"labelExpr":"datum.value == 0 ? '0' : format(datum.value, '.1f')","title":"77 K fluorescence , Fᵥ / Fₘ","titleAnchor":"end","titleAlign":"center","titlePadding":8}},
    "shape":{"field":"m","type":"nominal","scale":{"domain":["fc","oc","ft","ot"],"range":["circle","circle","triangle-up","triangle-up"]},"legend":null},
    "fill":{"field":"m","type":"nominal","scale":{"domain":["fc","oc","ft","ot"],"range":["black","white","black","white"]},"legend":null}}},
  {"transform":[{"filter":"datum.k=='L1'"}],"mark":{"type":"text","align":"left","baseline":"middle","font":"Liberation Sans","fontWeight":"bold","fontSize":8},
   "encoding":{"x":{"field":"h","type":"quantitative","scale":{"domain":[6,23],"range":[527.5,736.5],"nice":false,"zero":false},"axis":null},"y":{"field":"v","type":"quantitative","scale":{"domain":[0,1.1],"range":[368,232.5],"nice":false,"zero":false},"axis":null},"text":{"field":"t"}}},
  {"transform":[{"filter":"datum.k=='L2'"}],"mark":{"type":"text","align":"left","baseline":"middle","font":"Liberation Sans","fontWeight":"bold","fontSize":10},
   "encoding":{"x":{"field":"h","type":"quantitative","scale":{"domain":[6,23],"range":[527.5,736.5],"nice":false,"zero":false},"axis":null},"y":{"field":"v","type":"quantitative","scale":{"domain":[0,1.1],"range":[368,232.5],"nice":false,"zero":false},"axis":null},"text":{"field":"t"}}},
  {"transform":[{"filter":"datum.k=='L5'"}],"mark":{"type":"text","align":"center","baseline":"middle","font":"Liberation Sans","fontSize":7},
   "encoding":{"x":{"field":"h","type":"quantitative","scale":{"domain":[6,23],"range":[527.5,736.5],"nice":false,"zero":false},"axis":null},"y":{"field":"v","type":"quantitative","scale":{"domain":[0,1.1],"range":[368,232.5],"nice":false,"zero":false},"axis":null},"text":{"field":"t"}}}
 ]},

{"data":{"name":"f8a"},"resolve":{"axis":{"x":"independent","y":"independent"}},
 "layer":[
  {"transform":[{"filter":"datum.k=='c'||datum.k=='pc'"}],"mark":{"type":"line","interpolate":"monotone","stroke":"black","strokeWidth":1},
   "encoding":{"x":{"field":"h","type":"quantitative","scale":{"domain":[5,26],"range":[481.7,627.7],"nice":false,"zero":false},"axis":{"orient":"top","offset":-511.7,"values":[6,10,14,18,22],"labels":false,"title":null}},
    "y":{"field":"v","type":"quantitative","scale":{"domain":[0,1],"range":[663.3,511.7],"nice":false,"zero":false},"axis":null},
    "detail":{"field":"s"},
    "strokeDash":{"field":"d","type":"nominal","scale":{"domain":["solid","dash","dot","ldash"],"range":[[1,0],[4,3],[1,2.5],[10,4]]},"legend":null}}},
  {"transform":[{"filter":"datum.k=='p'||datum.k=='pc'"}],"mark":{"type":"point","filled":true,"stroke":"black","strokeWidth":0.8,"size":20,"opacity":1},
   "encoding":{"x":{"field":"h","type":"quantitative","scale":{"domain":[5,26],"range":[481.7,627.7],"nice":false,"zero":false},"axis":{"orient":"bottom","offset":-409.7,"values":[6,10,14,18,22],"labelExpr":"(datum.value < 10 ? '0' : '') + datum.value + '00'","title":null}},
    "y":{"field":"v","type":"quantitative","scale":{"domain":[0,1],"range":[663.3,511.7],"nice":false,"zero":false},"axis":{"orient":"left","offset":-481.7,"values":[0,0.2,0.4,0.6,0.8,1.0],"labelExpr":"datum.value == 0 ? '0' : format(datum.value, '.1f')","title":"77 K fluorescence , Fᵥ / Fₘ","titlePadding":8}},
    "shape":{"field":"m","type":"nominal","scale":{"domain":["fc","oc","ft","ot"],"range":["circle","circle","triangle-up","triangle-up"]},"legend":null},
    "fill":{"field":"m","type":"nominal","scale":{"domain":["fc","oc","ft","ot"],"range":["black","white","black","white"]},"legend":null}}},
  {"transform":[{"filter":"datum.k=='L1'"}],"mark":{"type":"text","align":"left","baseline":"middle","font":"Liberation Sans","fontWeight":"bold","fontSize":8},
   "encoding":{"x":{"field":"h","type":"quantitative","scale":{"domain":[5,26],"range":[481.7,627.7],"nice":false,"zero":false},"axis":null},"y":{"field":"v","type":"quantitative","scale":{"domain":[0,1],"range":[663.3,511.7],"nice":false,"zero":false},"axis":null},"text":{"field":"t"}}},
  {"transform":[{"filter":"datum.k=='L2'"}],"mark":{"type":"text","align":"left","baseline":"middle","font":"Liberation Sans","fontWeight":"bold","fontSize":10},
   "encoding":{"x":{"field":"h","type":"quantitative","scale":{"domain":[5,26],"range":[481.7,627.7],"nice":false,"zero":false},"axis":null},"y":{"field":"v","type":"quantitative","scale":{"domain":[0,1],"range":[663.3,511.7],"nice":false,"zero":false},"axis":null},"text":{"field":"t"}}},
  {"transform":[{"filter":"datum.k=='L3'"}],"mark":{"type":"text","align":"left","baseline":"middle","font":"Liberation Sans","fontWeight":"bold","fontSize":7},
   "encoding":{"x":{"field":"h","type":"quantitative","scale":{"domain":[5,26],"range":[481.7,627.7],"nice":false,"zero":false},"axis":null},"y":{"field":"v","type":"quantitative","scale":{"domain":[0,1],"range":[663.3,511.7],"nice":false,"zero":false},"axis":null},"text":{"field":"t"}}},
  {"transform":[{"filter":"datum.k=='L4'"}],"mark":{"type":"text","align":"center","baseline":"middle","font":"Liberation Sans","fontWeight":"bold","fontSize":9},
   "encoding":{"x":{"field":"h","type":"quantitative","scale":{"domain":[5,26],"range":[481.7,627.7],"nice":false,"zero":false},"axis":null},"y":{"field":"v","type":"quantitative","scale":{"domain":[0,1],"range":[663.3,511.7],"nice":false,"zero":false},"axis":null},"text":{"field":"t"}}}
 ]},

{"data":{"name":"f8b"},"resolve":{"axis":{"x":"independent","y":"independent"}},
 "layer":[
  {"transform":[{"filter":"datum.k=='c'||datum.k=='pc'"}],"mark":{"type":"line","interpolate":"monotone","stroke":"black","strokeWidth":1},
   "encoding":{"x":{"field":"h","type":"quantitative","scale":{"domain":[11,22],"range":[627.7,779],"nice":false,"zero":false},"axis":{"orient":"top","offset":-511.7,"values":[12,14,16,18,20],"labels":false,"title":null}},
    "y":{"field":"v","type":"quantitative","scale":{"domain":[0,1],"range":[663.3,511.7],"nice":false,"zero":false},"axis":{"orient":"right","offset":-37,"values":[0.2,0.4,0.6,0.8],"labels":false,"title":null}},
    "detail":{"field":"s"},
    "strokeDash":{"field":"d","type":"nominal","scale":{"domain":["solid","dash","dot","ldash"],"range":[[1,0],[4,3],[1,2.5],[10,4]]},"legend":null}}},
  {"transform":[{"filter":"datum.k=='p'||datum.k=='pc'"}],"mark":{"type":"point","filled":true,"stroke":"black","strokeWidth":0.8,"size":20,"opacity":1},
   "encoding":{"x":{"field":"h","type":"quantitative","scale":{"domain":[11,22],"range":[627.7,779],"nice":false,"zero":false},"axis":{"orient":"bottom","offset":-409.7,"values":[12,14,16,18,20],"labelExpr":"(datum.value < 10 ? '0' : '') + datum.value + '00'","title":"Time","titleAnchor":"start","titleAlign":"center","titlePadding":5}},
    "y":{"field":"v","type":"quantitative","scale":{"domain":[0,1],"range":[663.3,511.7],"nice":false,"zero":false},"axis":{"orient":"left","offset":-627.7,"values":[0.2,0.4,0.6,0.8],"labels":false,"title":null}},
    "shape":{"field":"m","type":"nominal","scale":{"domain":["fc","oc","ft","ot"],"range":["circle","circle","triangle-up","triangle-up"]},"legend":null},
    "fill":{"field":"m","type":"nominal","scale":{"domain":["fc","oc","ft","ot"],"range":["black","white","black","white"]},"legend":null}}},
  {"transform":[{"filter":"datum.k=='L1'"}],"mark":{"type":"text","align":"left","baseline":"middle","font":"Liberation Sans","fontWeight":"bold","fontSize":8},
   "encoding":{"x":{"field":"h","type":"quantitative","scale":{"domain":[11,22],"range":[627.7,779],"nice":false,"zero":false},"axis":null},"y":{"field":"v","type":"quantitative","scale":{"domain":[0,1],"range":[663.3,511.7],"nice":false,"zero":false},"axis":null},"text":{"field":"t"}}},
  {"transform":[{"filter":"datum.k=='L2'"}],"mark":{"type":"text","align":"left","baseline":"middle","font":"Liberation Sans","fontWeight":"bold","fontSize":10},
   "encoding":{"x":{"field":"h","type":"quantitative","scale":{"domain":[11,22],"range":[627.7,779],"nice":false,"zero":false},"axis":null},"y":{"field":"v","type":"quantitative","scale":{"domain":[0,1],"range":[663.3,511.7],"nice":false,"zero":false},"axis":null},"text":{"field":"t"}}},
  {"transform":[{"filter":"datum.k=='L3'"}],"mark":{"type":"text","align":"left","baseline":"middle","font":"Liberation Sans","fontWeight":"bold","fontSize":7},
   "encoding":{"x":{"field":"h","type":"quantitative","scale":{"domain":[11,22],"range":[627.7,779],"nice":false,"zero":false},"axis":null},"y":{"field":"v","type":"quantitative","scale":{"domain":[0,1],"range":[663.3,511.7],"nice":false,"zero":false},"axis":null},"text":{"field":"t"}}},
  {"transform":[{"filter":"datum.k=='L4'"}],"mark":{"type":"text","align":"center","baseline":"middle","font":"Liberation Sans","fontWeight":"bold","fontSize":9},
   "encoding":{"x":{"field":"h","type":"quantitative","scale":{"domain":[11,22],"range":[627.7,779],"nice":false,"zero":false},"axis":null},"y":{"field":"v","type":"quantitative","scale":{"domain":[0,1],"range":[663.3,511.7],"nice":false,"zero":false},"axis":null},"text":{"field":"t"}}}
 ]}
]
}
